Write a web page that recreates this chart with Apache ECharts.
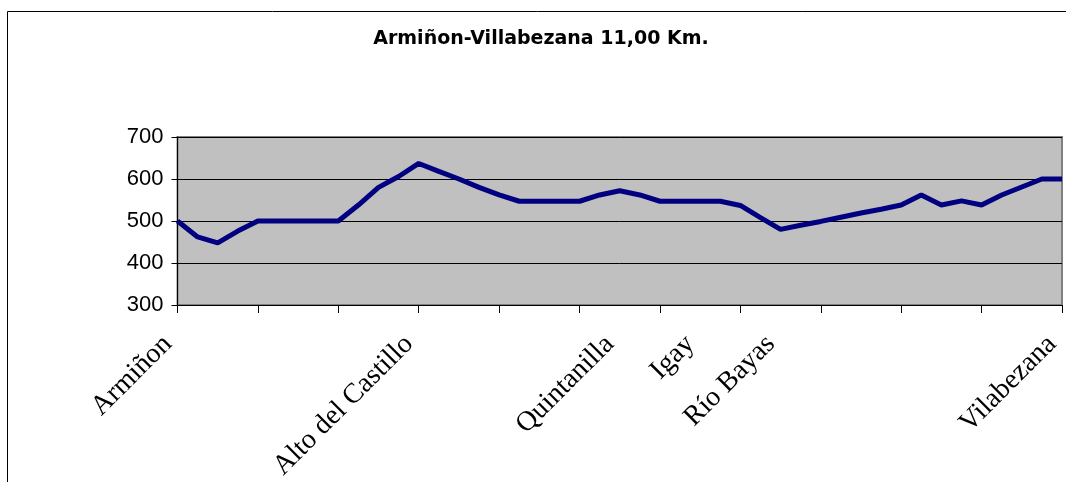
<!DOCTYPE html>
<html lang="es">
<head>
    <meta charset="UTF-8">
    <title>Armiñon-Villabezana</title>
    <script type="text/javascript" src="https://cdn.jsdelivr.net/npm/echarts@6/dist/echarts.min.js"></script>
    <style>
        html, body { margin: 0; padding: 0; background: #fff; }
        #perfil { width: 1066px; height: 482px; }
    </style>
</head>
<body>
<!--perfil de la etapa-->
<div id="perfil"></div>
<script type="text/javascript">
    var titulo = 'Armiñon-Villabezana 11,00 Km.';

    // un punto cada 0,25 km, solo algunos con nombre
    var puntos = [
        'Armiñon', '', '', '', '', '', '', '', '', '', '', '',
        'Alto del Castillo', '', '', '', '', '', '', '', '', '',
        'Quintanilla', '', '', '', 'Igay', '', '', '', 'Río Bayas',
        '', '', '', '', '', '', '', '', '', '', '', '', '', 'Vilabezana'
    ];

    // altitud en metros
    var alturas = [
        500, 462, 448, 476, 500, 500, 500, 500, 500, 538,
        580, 606, 637, 618, 600, 580, 562, 547, 547, 547,
        547, 562, 572, 562, 547, 547, 547, 547, 537, 508,
        480, 490, 499, 509, 519, 528, 538, 562, 538, 548,
        538, 562, 581, 600, 600
    ];

    var ejeY = { min: 300, max: 700, paso: 100 };

    var myChart = echarts.init(document.getElementById('perfil'));

    var option = {
        animation: false,
        title: {
            text: titulo,
            left: 536,
            top: 25,
            textAlign: 'center',
            textStyle: {
                fontFamily: 'DejaVu Sans',
                fontWeight: 'bold',
                fontSize: 19,
                color: '#000'
            }
        },
        graphic: [{
            type: 'rect',
            shape: { x: 7.5, y: 11.5, width: 1100, height: 600 },
            style: { fill: 'none', stroke: '#000', lineWidth: 1 },
            silent: true
        }],
        grid: {
            left: 177.5,
            right: 4,
            top: 137,
            bottom: 177,
            outerBoundsMode: 'none',
            containLabel: false,
            show: true,
            backgroundColor: '#C0C0C0',
            borderColor: '#808080',
            borderWidth: 2
        },
        xAxis: {
            type: 'category',
            boundaryGap: false,
            data: puntos,
            axisLine: { lineStyle: { color: '#000', width: 1 } },
            axisTick: { interval: 3, length: 8, lineStyle: { color: '#000' } },
            axisLabel: {
                interval: 0,
                rotate: 45,
                margin: 25,
                padding: [0, 14, 0, 0],
                fontFamily: 'Liberation Serif',
                fontSize: 28,
                color: '#000'
            },
            splitLine: { show: false }
        },
        yAxis: {
            type: 'value',
            min: ejeY.min,
            max: ejeY.max,
            interval: ejeY.paso,
            axisLine: { show: true, lineStyle: { color: '#000', width: 1 } },
            axisTick: { show: true, length: 6, lineStyle: { color: '#000' } },
            axisLabel: {
                margin: 14,
                fontFamily: 'Liberation Sans',
                fontSize: 22,
                color: '#000'
            },
            splitLine: { lineStyle: { color: '#000', width: 1 } }
        },
        series: [{
            type: 'line',
            data: alturas,
            symbol: 'none',
            lineStyle: { color: '#000080', width: 5 }
        }]
    };

    myChart.setOption(option);
</script>
</body>
</html>
